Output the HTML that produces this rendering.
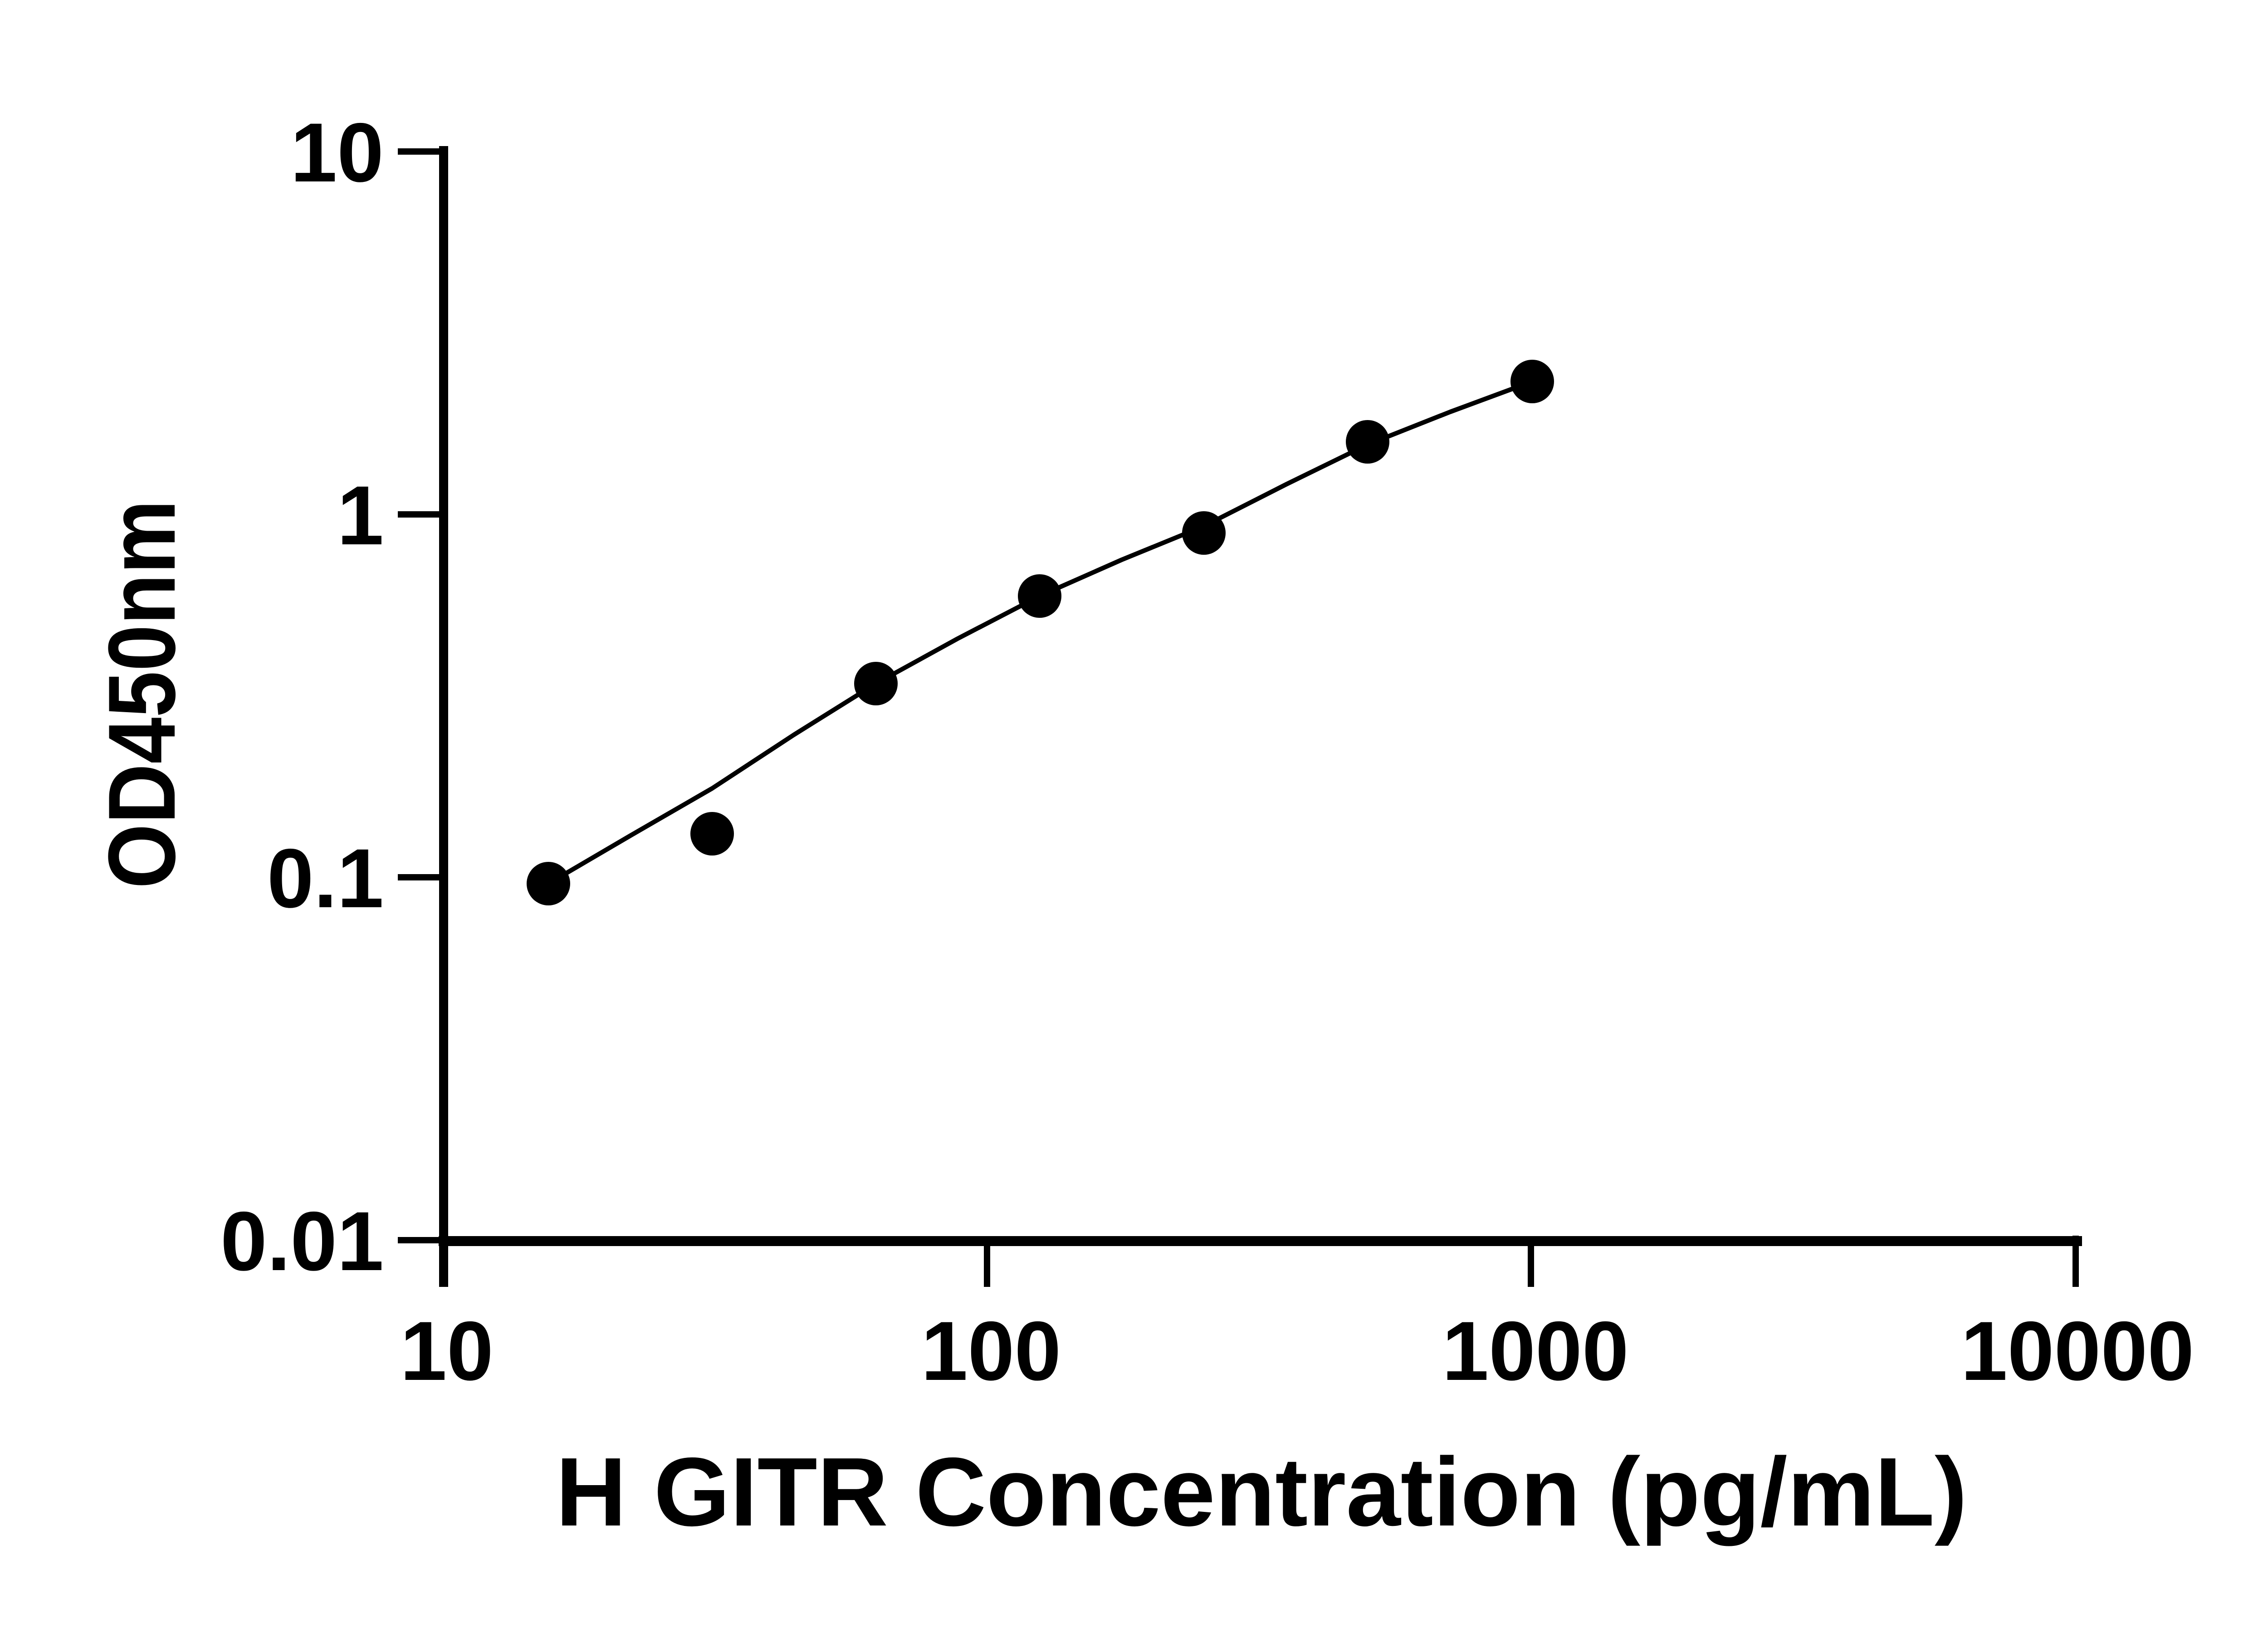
<!DOCTYPE html>
<html><head><meta charset="utf-8"><style>html,body{margin:0;padding:0;background:#fff}svg{display:block}</style></head>
<body>
<svg width="5130" height="3600" viewBox="0 0 5130 3600" xmlns="http://www.w3.org/2000/svg">
<rect width="5130" height="3600" fill="#fff"/>
<g stroke="#000" fill="none">
<line x1="978" y1="322" x2="978" y2="2837" stroke-width="20"/>
<line x1="967" y1="2736" x2="4590" y2="2736" stroke-width="22"/>
<g stroke-width="14">
<line x1="877" y1="334" x2="978" y2="334"/>
<line x1="877" y1="1134" x2="978" y2="1134"/>
<line x1="877" y1="1934" x2="978" y2="1934"/>
<line x1="877" y1="2734" x2="978" y2="2734"/>
<line x1="2176" y1="2736" x2="2176" y2="2837"/>
<line x1="3375" y1="2736" x2="3375" y2="2837"/>
<line x1="4576" y1="2724" x2="4576" y2="2837"/>
</g>
<polyline points="1209,1948 1390,1842 1570,1738 1750,1620 1931,1507 2111,1408 2292,1314 2473,1234 2654,1160 2835,1068 3015,980 3197,908 3378,841" stroke-width="10" stroke-linejoin="round"/>
</g>
<g fill="#000">
<circle cx="1209" cy="1948" r="48"/>
<circle cx="1570" cy="1838" r="48"/>
<circle cx="1931" cy="1507" r="48"/>
<circle cx="2292" cy="1314" r="48"/>
<circle cx="2654" cy="1175" r="48"/>
<circle cx="3015" cy="974" r="48"/>
<circle cx="3378" cy="841" r="48"/>
</g>
<g font-family="Liberation Sans, sans-serif" font-weight="bold" font-size="185" fill="#000">
<text x="846" y="400" text-anchor="end">10</text>
<text x="846" y="1200" text-anchor="end">1</text>
<text x="846" y="2000" text-anchor="end">0.1</text>
<text x="846" y="2800" text-anchor="end">0.01</text>
<text x="985" y="3042" text-anchor="middle">10</text>
<text x="2185" y="3042" text-anchor="middle">100</text>
<text x="3385" y="3042" text-anchor="middle">1000</text>
<text x="4580" y="3042" text-anchor="middle">10000</text>
<text x="1225" y="3363" font-size="215" textLength="3112" lengthAdjust="spacingAndGlyphs">H GITR Concentration (pg/mL)</text>
<text transform="translate(385,1959) rotate(-90)" font-size="210" textLength="857" lengthAdjust="spacingAndGlyphs">OD450nm</text>
</g>
</svg>
</body></html>
